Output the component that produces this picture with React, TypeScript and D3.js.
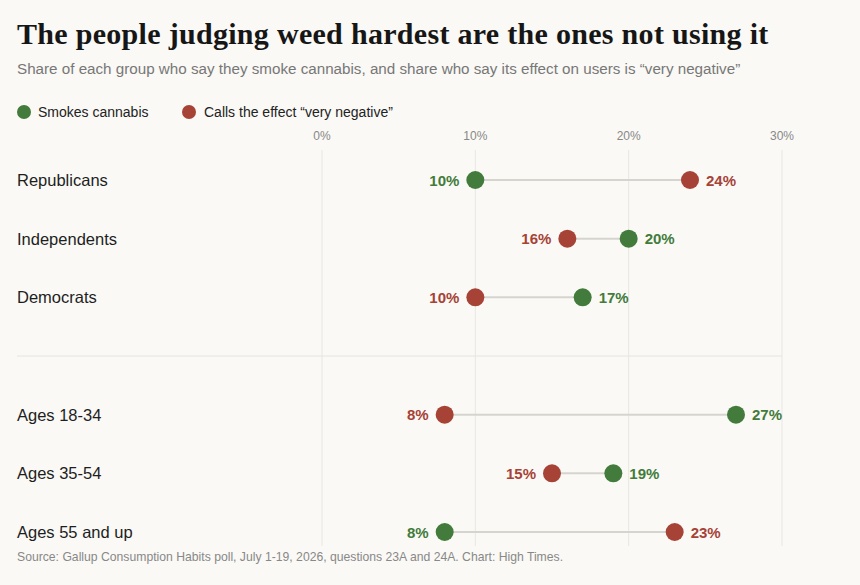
import React from "react";
import * as d3 from "d3";

const groups = ["Republicans", "Independents", "Democrats", "", "Ages 18-34", "Ages 35-54", "Ages 55 and up"];
const smokes = [10, 20, 17, null, 27, 19, 8];
const veryNegative = [24, 16, 10, null, 8, 15, 23];
const ticks = [0, 10, 20, 30];

const W = 860;
const H = 585;
const GREEN = "#427b3b";
const RED = "#a64236";
const SANS = "'Liberation Sans', Arial, sans-serif";
const SERIF = "'Liberation Serif', 'Times New Roman', serif";

export default function App() {
  const x = d3.scaleLinear().domain([0, 30]).range([322, 782]);
  const y = d3.scalePoint<number>().domain(d3.range(groups.length)).range([180, 532]);

  return (
    <svg width={W} height={H} style={{ position: "absolute", left: 0, top: 0, background: "#faf9f5" }}>
      <rect width={W} height={H} fill="#faf9f5" />
      <text x={17} y={44} fontFamily={SERIF} fontWeight="bold" fontSize={30} letterSpacing={0.3} fill="#161616">
        The people judging weed hardest are the ones not using it
      </text>
      <text x={17} y={74} fontFamily={SANS} fontSize={15.2} fill="#777">
        Share of each group who say they smoke cannabis, and share who say its effect on users is “very negative”
      </text>
      <circle cx={24} cy={112} r={7} fill={GREEN} />
      <text x={38} y={117} fontFamily={SANS} fontSize={14} fill="#222">Smokes cannabis</text>
      <circle cx={189} cy={112} r={7} fill={RED} />
      <text x={204} y={117} fontFamily={SANS} fontSize={14} fill="#222">Calls the effect “very negative”</text>

      {ticks.map((t) => (
        <g key={t}>
          <text x={x(t)} y={140} textAnchor="middle" fontFamily={SANS} fontSize={12} fill="#888">{t}%</text>
          <line x1={x(t)} x2={x(t)} y1={150} y2={546} stroke="#e9e7e2" strokeWidth={1} />
        </g>
      ))}

      {groups.map((g, i) => {
        const cy = y(i) as number;
        const s = smokes[i];
        const n = veryNegative[i];
        if (s === null || n === null) {
          return <line key={i} x1={17} x2={782} y1={cy} y2={cy} stroke="#e6e4df" strokeWidth={1} />;
        }
        const greenLeft = s < n;
        const xs = x(s);
        const xn = x(n);
        const left = Math.min(xs, xn);
        const right = Math.max(xs, xn);
        return (
          <g key={i}>
            <text x={17} y={cy + 6} fontFamily={SANS} fontSize={16.5} fill="#1e1e1e">{g}</text>
            <line x1={left} x2={right} y1={cy} y2={cy} stroke="#d6d4cf" strokeWidth={2} />
            <circle cx={xs} cy={cy} r={9} fill={GREEN} />
            <circle cx={xn} cy={cy} r={9} fill={RED} />
            <text x={greenLeft ? xs - 16 : xs + 16} y={cy + 5.5} textAnchor={greenLeft ? "end" : "start"} fontFamily={SANS} fontWeight="bold" fontSize={15} fill={GREEN}>{s}%</text>
            <text x={greenLeft ? xn + 16 : xn - 16} y={cy + 5.5} textAnchor={greenLeft ? "start" : "end"} fontFamily={SANS} fontWeight="bold" fontSize={15} fill={RED}>{n}%</text>
          </g>
        );
      })}

      <text x={17} y={561} fontFamily={SANS} fontSize={12.2} fill="#888">
        Source: Gallup Consumption Habits poll, July 1-19, 2026, questions 23A and 24A. Chart: High Times.
      </text>
    </svg>
  );
}
